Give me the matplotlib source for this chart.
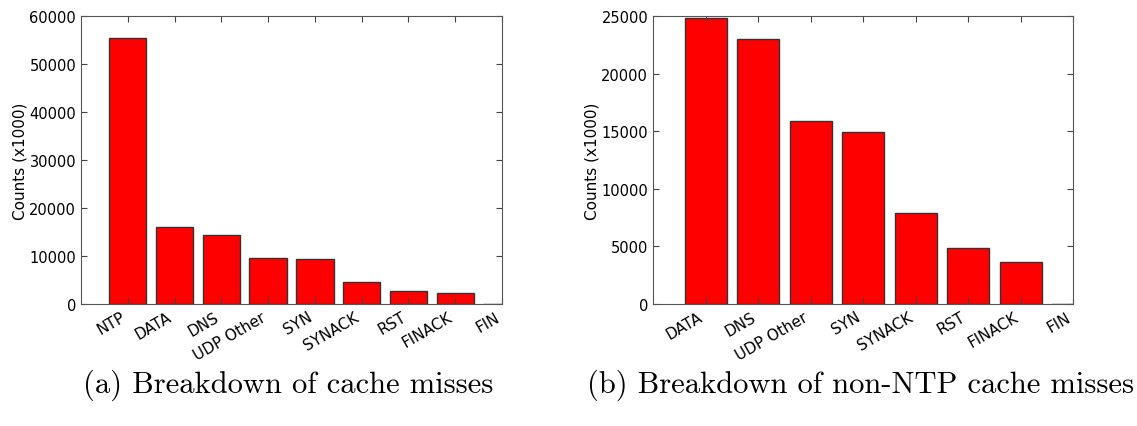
import matplotlib.pyplot as plt
import numpy as np

# cache misses, all traffic (x1000)
labels_a = ['NTP', 'DATA', 'DNS', 'UDP Other', 'SYN', 'SYNACK', 'RST', 'FINACK', 'FIN']
counts_a = [55450, 16050, 14450, 9680, 9450, 4560, 2800, 2300, 0]

# cache misses without NTP (x1000)
labels_b = ['DATA', 'DNS', 'UDP Other', 'SYN', 'SYNACK', 'RST', 'FINACK', 'FIN']
counts_b = [24830, 23010, 15890, 14950, 7880, 4850, 3620, 0]

captions = ['(a) Breakdown of cache misses', '(b) Breakdown of non-NTP cache misses']

W, H = 1137, 427
fig = plt.figure(figsize=(W / 100, H / 100), dpi=100)
ax1 = fig.add_axes([81 / W, 1 - 305 / H, 421 / W, 288 / H])
ax2 = fig.add_axes([653 / W, 1 - 305 / H, 420 / W, 288 / H])

def draw(ax, labels, counts, ymax, step):
    # old-style bars: left edge at i+0.6, tick at the bar centre
    pos = np.arange(len(labels)) + 1
    ax.bar(pos - 0.4, counts, width=0.8, align='edge', color='#ff0000',
           edgecolor='#333333', linewidth=1.0)
    ax.set_xlim(0, len(labels))
    ax.set_ylim(0, ymax)
    ax.set_yticks(np.arange(0, ymax + 1, step))
    ax.set_xticks(pos)
    ax.set_xticklabels(labels, rotation=30, ha='right', fontsize=11)
    ax.tick_params(axis='y', labelsize=10.5)
    ax.tick_params(direction='in', top=True, right=True, length=4, color='#444444')
    ax.set_ylabel('Counts (x1000)', fontsize=11, labelpad=1)
    for s in ax.spines.values():
        s.set_color('#555555')

draw(ax1, labels_a, counts_a, 60000, 10000)
draw(ax2, labels_b, counts_b, 25000, 5000)

fig.text(83 / W, 1 - 393 / H, captions[0], family='cmr10', fontsize=22, va='baseline')
fig.text(587 / W, 1 - 393 / H, captions[1], family='cmr10', fontsize=22, va='baseline')

fig.savefig('out.png', dpi=100)
